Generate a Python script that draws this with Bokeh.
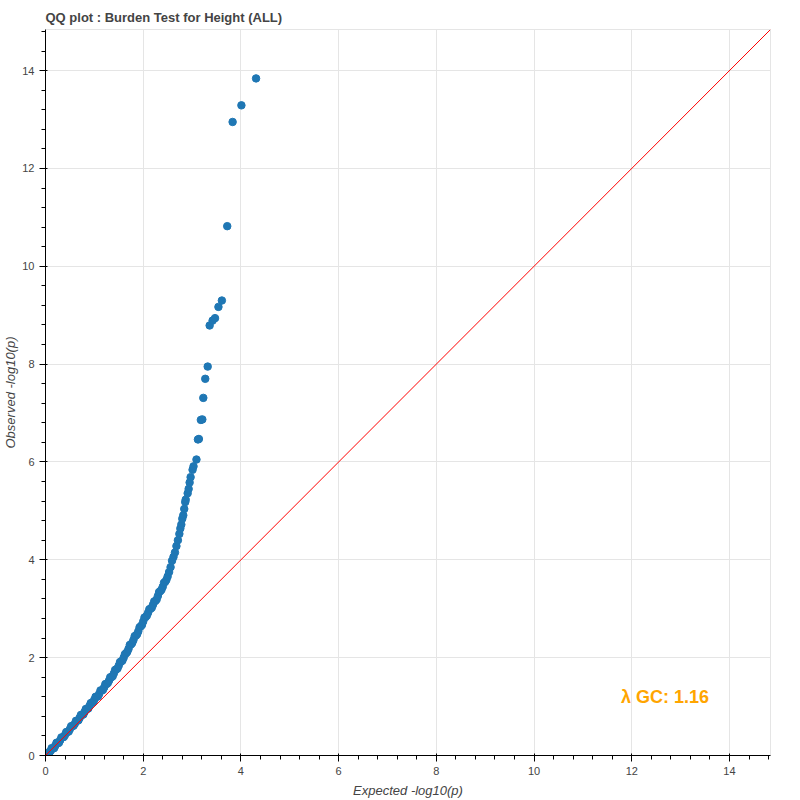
from bokeh.plotting import figure
from bokeh.models import Range1d, ColumnDataSource, Label
from bokeh.embed import file_html
from bokeh.resources import INLINE

# Expected -log10(p) and observed -log10(p)
expected = [0.000, 0.025, 0.050, 0.075, 0.100, 0.125, 0.150, 0.175, 0.200, 0.225,
            0.250, 0.275, 0.300, 0.325, 0.350, 0.375, 0.400, 0.425, 0.450, 0.475,
            0.500, 0.525, 0.550, 0.575, 0.600, 0.625, 0.650, 0.675, 0.700, 0.725,
            0.750, 0.775, 0.800, 0.825, 0.850, 0.875, 0.900, 0.925, 0.950, 0.975,
            1.000, 1.025, 1.050, 1.075, 1.100, 1.125, 1.150, 1.175, 1.200, 1.225,
            1.250, 1.275, 1.300, 1.325, 1.350, 1.375, 1.400, 1.425, 1.450, 1.475,
            1.500, 1.525, 1.550, 1.575, 1.600, 1.625, 1.650, 1.675, 1.700, 1.725,
            1.750, 1.775, 1.800, 1.825, 1.850, 1.875, 1.900, 1.925, 1.950, 1.975,
            2.000, 2.025, 2.050, 2.075, 2.100, 2.125, 2.150, 2.175, 2.200, 2.225,
            2.250, 2.275, 2.300, 2.325, 2.350, 2.375, 2.400, 2.425, 2.450, 2.475,
            2.50, 2.53, 2.56, 2.59, 2.62, 2.65, 2.68, 2.71, 2.74, 2.76,
            2.78, 2.80, 2.82, 2.84, 2.86, 2.87, 2.91, 2.93, 2.95, 2.97,
            3.01, 3.03, 3.09, 3.12, 3.14, 3.18, 3.21, 3.23, 3.27, 3.32,
            3.36, 3.42, 3.47, 3.54, 3.61, 3.72, 3.83, 4.01, 4.31]
observed = [0.00, 0.05, 0.04, 0.05, 0.09, 0.15, 0.14, 0.15, 0.20, 0.26,
            0.25, 0.26, 0.31, 0.37, 0.37, 0.38, 0.42, 0.48, 0.48, 0.49,
            0.54, 0.60, 0.60, 0.61, 0.65, 0.71, 0.71, 0.72, 0.77, 0.83,
            0.83, 0.84, 0.89, 0.95, 0.95, 0.96, 1.01, 1.07, 1.08, 1.09,
            1.14, 1.20, 1.20, 1.21, 1.26, 1.33, 1.33, 1.34, 1.39, 1.46,
            1.46, 1.48, 1.53, 1.60, 1.60, 1.62, 1.68, 1.75, 1.76, 1.78,
            1.84, 1.91, 1.92, 1.94, 2.00, 2.07, 2.09, 2.12, 2.18, 2.26,
            2.27, 2.30, 2.36, 2.44, 2.45, 2.48, 2.54, 2.62, 2.64, 2.67,
            2.74, 2.82, 2.83, 2.86, 2.92, 2.99, 3.00, 3.02, 3.08, 3.15,
            3.16, 3.19, 3.26, 3.34, 3.36, 3.39, 3.45, 3.53, 3.55, 3.59,
            3.66, 3.75, 3.85, 3.98, 4.06, 4.15, 4.28, 4.40, 4.53, 4.64,
            4.72, 4.84, 4.91, 5.04, 5.18, 5.23, 5.36, 5.45, 5.58, 5.69,
            5.84, 5.91, 6.05, 6.46, 6.47, 6.86, 6.87, 7.31, 7.70, 7.95,
            8.79, 8.89, 8.94, 9.17, 9.30, 10.82, 12.95, 13.29, 13.84]

lambda_gc = 1.16
axis_max = 14.84

FONT = "Liberation Sans"

p = figure(width=800, height=800, output_backend="svg", toolbar_location=None,
           title="QQ plot : Burden Test for Height (ALL)",
           x_range=Range1d(0, axis_max), y_range=Range1d(0, axis_max),
           x_axis_label="Expected -log10(p)", y_axis_label="Observed -log10(p)",
           min_border_left=40, min_border_right=30, min_border_top=29,
           min_border_bottom=45)

p.title.text_font = FONT
p.title.text_font_size = "13px"
p.title.text_font_style = "bold"
p.title.text_color = "#444444"

for ax in (p.xaxis, p.yaxis):
    ax.axis_label_text_font = FONT
    ax.axis_label_text_font_size = "13px"
    ax.axis_label_text_font_style = "italic"
    ax.axis_label_text_color = "#444444"
    ax.major_label_text_font = FONT
    ax.major_label_text_font_size = "11px"
    ax.major_label_text_color = "#444444"
p.yaxis.axis_label_standoff = 1

src = ColumnDataSource(dict(x=expected, y=observed))
p.scatter("x", "y", source=src, size=7.5, fill_color="#1f77b4",
          line_color="#1f77b4")

p.line([0, axis_max], [0, axis_max], line_color="red", line_width=1)

lab = Label(x=11.78, y=1.19, text=f"λ GC: {lambda_gc:.2f}",
            text_color="orange", text_font=FONT, text_font_size="18px",
            text_font_style="bold", text_baseline="middle")
p.add_layout(lab)

open("out.html", "w").write(file_html(p, INLINE))
